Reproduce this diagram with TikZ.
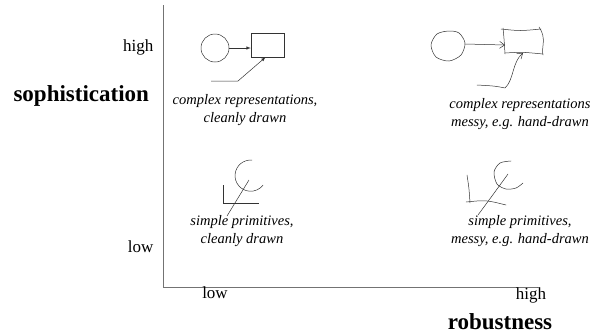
\documentclass[tikz,border=0pt]{standalone}
\usepackage{fontspec}
\setmainfont{Liberation Serif}
\usetikzlibrary{arrows.meta}
\begin{document}
\begin{tikzpicture}[x=1pt, y=-1pt, >=latex,
		axis/.style={draw=black!55, line width=0.9pt},
		ink/.style={draw=black!80, line width=0.5pt},
		scrawl/.style={draw=black!80, line width=0.5pt, line join=round, line cap=round},
		caption/.style={font=\fontsize{14.5}{18.5}\selectfont\itshape, align=center},
		level/.style={font=\fontsize{17}{20}\selectfont},
		title/.style={font=\fontsize{23}{26}\selectfont\bfseries}]
		\useasboundingbox (0,0) rectangle (593,335);

		% Axes
		\coordinate (top) at (163,5);
		\coordinate (origin) at (163,287);
		\coordinate (right) at (538,287);
		\draw[axis] (top) -- (origin) -- (right);

		\node[level, anchor=base east] (yhigh) at (157,51) {high};
		\node[level, anchor=base east] (ylow) at (157,252) {low};
		\node[title, anchor=base west] (ytitle) at (10,101) {sophistication};
		\node[level, anchor=base] (xlow) at (215,298) {low};
		\node[level, anchor=base] (xhigh) at (531,299) {high};
		\node[title, anchor=base] (xtitle) at (500,329) {robustness};

		% Complex, clean
		\node[ink, circle, minimum size=28, inner sep=0] (circ1) at (215,48) {};
		\node[ink, rectangle, minimum width=33, minimum height=24, inner sep=0] (box1) at (267.5,45) {};
		\coordinate (tail1) at (211,81);
		\coordinate (bend1) at (238,81);
		\draw[->, ink] (circ1.east) -- (circ1.east -| box1.west);
		\draw[->, ink] (tail1) -- (bend1) -- ([xshift=-2]box1.south);
		\node[caption] (cap1) at (245,110) {complex representations,\\cleanly drawn};

		% Complex, messy
		\draw[scrawl] plot[smooth cycle] coordinates {(449,31) (437,34) (431,45) (436,57) (449,61) (461,55) (465,43) (459,33)};
		\draw[scrawl] (503,28) .. controls (504,38) .. (505,54);
		\draw[scrawl] (501,29) .. controls (520,31) .. (541,29);
		\draw[scrawl] (539,27) .. controls (547,38) and (541,48) .. (543,55);
		\draw[scrawl] (505,53) .. controls (522,52) .. (543,54);
		\coordinate (head2) at (465,44);
		\coordinate (tip2) at (505,45);
		\coordinate (tail2) at (477,85);
		\coordinate (bend2) at (505,88);
		\coordinate (tip3) at (523,53);
		\draw[scrawl, -{Straight Barb[length=5pt, width=7pt]}] (head2) -- (tip2);
		\draw[scrawl, -{Straight Barb[length=5pt, width=7pt]}] (tail2) .. controls (495,86) .. (bend2) .. controls (514,80) and (512,62) .. (tip3);
		\node[caption] (cap2) at (520,114) {complex representations\\messy, e.g. hand-drawn};

		% Simple, clean
		\draw[ink] (252,160.1) arc[start angle=275, end angle=37, radius=15.6];
		\draw[ink] (223,185) -- (223,203) -- (259,203);
		\draw[ink] (249,180) -- (227,216);
		\node[caption] (cap3) at (242,231) {simple primitives,\\cleanly drawn};

		% Simple, messy
		\draw[scrawl] plot[smooth] coordinates {(511,161) (500,163) (494,172) (497,184) (506,189) (516,188) (523,183)};
		\draw[scrawl] (467,175) .. controls (469,188) .. (470,203);
		\draw[scrawl] (466,202) .. controls (486,200) .. (506,205);
		\draw[scrawl] (508,174) .. controls (492,196) .. (478,215);
		\node[caption] (cap4) at (520,231) {simple primitives,\\messy, e.g. hand-drawn};
	\end{tikzpicture}
\end{document}
